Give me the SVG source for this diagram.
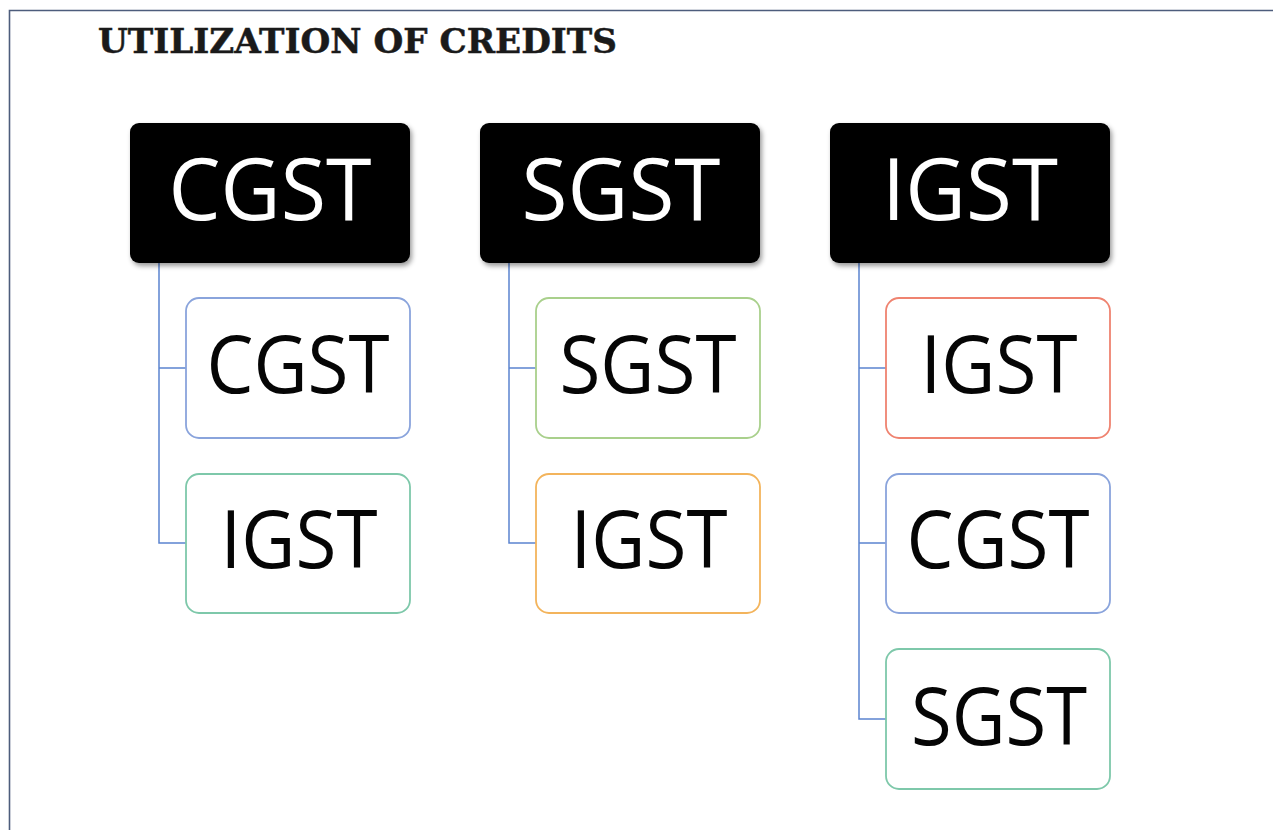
<svg xmlns="http://www.w3.org/2000/svg" width="1273" height="830" viewBox="0 0 1273 830">
<defs>
<filter id="sh" x="-10%" y="-10%" width="125%" height="135%">
<feDropShadow dx="2" dy="3" stdDeviation="2.5" flood-color="#000" flood-opacity="0.4"/>
</filter>
<style>
.frame{stroke:#4d5d7c;stroke-width:1.6;fill:none}
.title{font-family:"DejaVu Serif","Liberation Serif",serif;font-weight:bold;font-size:34px;fill:#1a1a1a;stroke:#1a1a1a;stroke-width:0.5}
.head rect{fill:#050505;filter:url(#sh)}
.head text{font-family:"Open Sans","Noto Sans","Liberation Sans",sans-serif;font-size:86px;fill:#fff;text-anchor:middle}
.child rect{fill:#fff;stroke-width:1.8}
.child text{font-family:"Open Sans","Noto Sans","Liberation Sans",sans-serif;font-size:80px;fill:#050505;text-anchor:middle}
.conn path{fill:none;stroke:#5b84d0;stroke-width:1.5}
.blue{stroke:#8aa4dc}
.teal{stroke:#7ec8aa}
.green{stroke:#a9d08c}
.orange{stroke:#f3b45c}
.red{stroke:#ef8370}
</style>
</defs>
<rect width="1273" height="830" fill="#fff"/>
<path class="frame" d="M9.5,830 V10.5 H1273"/>
<text class="title" x="98" y="53" textLength="519" lengthAdjust="spacingAndGlyphs">UTILIZATION OF CREDITS</text>

<g id="connectors" class="conn">
<path d="M159,263 V543 H186 M159,368 H186"/>
<path d="M509,263 V543 H536 M509,368 H536"/>
<path d="M859,263 V719 H886 M859,368 H886 M859,543 H886"/>
</g>

<g id="h-cgst" class="head"><rect x="130" y="123" width="280" height="140" rx="9"/><text x="270" y="220" textLength="203" lengthAdjust="spacingAndGlyphs">CGST</text></g>
<g id="h-sgst" class="head"><rect x="480" y="123" width="280" height="140" rx="9"/><text x="621" y="220" textLength="199" lengthAdjust="spacingAndGlyphs">SGST</text></g>
<g id="h-igst" class="head"><rect x="830" y="123" width="280" height="140" rx="9"/><text x="970" y="220" textLength="176" lengthAdjust="spacingAndGlyphs">IGST</text></g>

<g id="c1-cgst" class="child"><rect class="blue" x="186" y="298" width="224" height="140" rx="13"/><text x="298" y="393" textLength="183" lengthAdjust="spacingAndGlyphs">CGST</text></g>
<g id="c1-igst" class="child"><rect class="teal" x="186" y="474" width="224" height="139" rx="13"/><text x="299" y="568" textLength="157" lengthAdjust="spacingAndGlyphs">IGST</text></g>

<g id="c2-sgst" class="child"><rect class="green" x="536" y="298" width="224" height="140" rx="13"/><text x="648" y="393" textLength="177" lengthAdjust="spacingAndGlyphs">SGST</text></g>
<g id="c2-igst" class="child"><rect class="orange" x="536" y="474" width="224" height="139" rx="13"/><text x="649" y="568" textLength="157" lengthAdjust="spacingAndGlyphs">IGST</text></g>

<g id="c3-igst" class="child"><rect class="red" x="886" y="298" width="224" height="140" rx="13"/><text x="999" y="393" textLength="157" lengthAdjust="spacingAndGlyphs">IGST</text></g>
<g id="c3-cgst" class="child"><rect class="blue" x="886" y="474" width="224" height="139" rx="13"/><text x="998" y="568" textLength="183" lengthAdjust="spacingAndGlyphs">CGST</text></g>
<g id="c3-sgst" class="child"><rect class="teal" x="886" y="649" width="224" height="140" rx="13"/><text x="999" y="745" textLength="176" lengthAdjust="spacingAndGlyphs">SGST</text></g>
</svg>
